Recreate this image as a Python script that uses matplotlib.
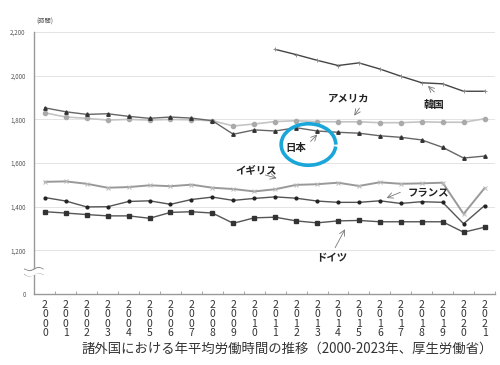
import numpy as np
import matplotlib.pyplot as plt
from matplotlib.patches import Arc

plt.rcParams['font.family'] = ['Noto Sans CJK JP', 'DejaVu Sans']

years = list(range(2000, 2022))
korea = [None] * 11 + [2121, 2097, 2071, 2047, 2059, 2031, 1998, 1968, 1963, 1929, 1929]
usa = [1830, 1811, 1805, 1797, 1800, 1797, 1800, 1798, 1794, 1770, 1779,
       1790, 1794, 1790, 1789, 1789, 1785, 1785, 1789, 1787, 1787, 1803]
japan = [1853, 1835, 1823, 1826, 1814, 1805, 1811, 1806, 1794, 1732, 1752,
         1747, 1762, 1747, 1741, 1737, 1725, 1718, 1706, 1672, 1623, 1632]
uk = [1514, 1516, 1505, 1487, 1490, 1498, 1494, 1501, 1487, 1481, 1470,
      1480, 1500, 1503, 1510, 1495, 1512, 1505, 1507, 1510, 1367, 1485]
france = [1442, 1426, 1399, 1400, 1424, 1427, 1411, 1433, 1444, 1429, 1438,
          1445, 1439, 1426, 1420, 1420, 1427, 1415, 1423, 1420, 1322, 1405]
germany = [1377, 1371, 1364, 1358, 1358, 1347, 1374, 1377, 1371, 1324, 1349,
           1352, 1335, 1326, 1335, 1337, 1331, 1331, 1331, 1331, 1283, 1306]
yticks = [1000, 1200, 1400, 1600, 1800, 2000, 2200]
ytick_labels = ['0', '1,200', '1,400', '1,600', '1,800', '2,000', '2,200']

fig = plt.figure(figsize=(5, 3.65), dpi=100)
ax = fig.add_axes([0.068, 0.1945, 0.922, 0.7175])

kx = [y for y, v in zip(years, korea) if v is not None]
kv = [v for v in korea if v is not None]
ax.plot(kx, kv, color='#444444', lw=1.0, marker='+', ms=3, mec='#888888', mew=0.6)
ax.plot(years, usa, color='#c4c4c4', lw=1.2, marker='o', ms=3, mfc='#aaaaaa', mec='#aaaaaa')
ax.plot(years, japan, color='#666666', lw=1.0, marker='^', ms=2.5, mfc='#333333', mec='#333333')
ax.plot(years, uk, color='#999999', lw=1.4, marker='x', ms=3, mec='#bbbbbb', mew=0.7)
ax.plot(years, france, color='#555555', lw=1.0, marker='o', ms=2, mfc='#222222', mec='#222222')
ax.plot(years, germany, color='#555555', lw=1.0, marker='s', ms=3, mfc='#333333', mec='#333333')

ax.set_xlim(1999.48, 2021.38)
ax.set_ylim(1000, 2200)
ax.set_yticks(yticks)
ax.set_yticklabels(ytick_labels, fontsize=4.5, color='#555555')
for t in yticks[1:]:
    ax.axhline(t, color='#e4e4e4', lw=0.7, zorder=0)

ax.set_xticks(years)
ax.set_xticklabels(['\n'.join(str(y)) for y in years], fontsize=7.5,
                   color='#333333', linespacing=0.95)
ax.set_xticks(np.arange(1999.5, 2021.6, 1.0), minor=True)
ax.tick_params(axis='x', which='major', length=0, pad=4)
ax.tick_params(axis='x', which='minor', length=2, direction='in', color='#999999')
ax.tick_params(axis='y', length=0, pad=6)

for s in ['top', 'right']:
    ax.spines[s].set_visible(False)
for s in ['left', 'bottom']:
    ax.spines[s].set_color('#999999')
    ax.spines[s].set_linewidth(1.0)

# axis break mark
bx = np.linspace(-0.02, 0.02, 30)
for off in (0.075, 0.095):
    ax.plot(bx, off + 0.006 * np.sin(bx / 0.02 * np.pi), transform=ax.transAxes,
            color='#888888', lw=0.8, clip_on=False)
ax.fill_between(bx, 0.075 + 0.006 * np.sin(bx / 0.02 * np.pi) + 0.003,
                0.095 + 0.006 * np.sin(bx / 0.02 * np.pi) - 0.003,
                transform=ax.transAxes, color='white', clip_on=False, zorder=3)

fig.text(0.09, 0.935, '(時間)', fontsize=4.5, color='#555555', ha='center')

lab = dict(fontsize=7.5, color='#222222', ha='center', va='center', fontweight='bold')
ax.text(2014.5, 1898, 'アメリカ', **lab)
ax.text(2018.6, 1866, '韓国', **lab)
ax.text(2012.0, 1667, '日本', **lab)
ax.text(2010.1, 1567, 'イギリス', **lab)
ax.text(2018.3, 1467, 'フランス', **lab)
ax.text(2013.7, 1165, 'ドイツ', **lab)

arr = dict(arrowstyle='->', color='#777777', lw=0.6)
ax.annotate('', xy=(2014.7, 1807), xytext=(2015.1, 1862), arrowprops=arr)
ax.annotate('', xy=(2018.2, 1962), xytext=(2018.7, 1917), arrowprops=arr)
ax.annotate('', xy=(2013.1, 1740), xytext=(2012.6, 1690), arrowprops=arr)
ax.annotate('', xy=(2011.2, 1527), xytext=(2010.4, 1549), arrowprops=arr)
ax.annotate('', xy=(2016.2, 1435), xytext=(2017.1, 1471), arrowprops=arr)
ax.annotate('', xy=(2014.4, 1308), xytext=(2013.8, 1201), arrowprops=arr)

ax.add_patch(Arc((2012.59, 1685), 2.61, 190, theta1=-20, theta2=278,
                 color='#1aa6d8', lw=2.6, zorder=5))

fig.text(0.574, 0.035, '諸外国における年平均労働時間の推移（2000-2023年、厚生労働省）',
         fontsize=9.6, color='#333333', ha='center')

plt.savefig('out.png', dpi=100)
